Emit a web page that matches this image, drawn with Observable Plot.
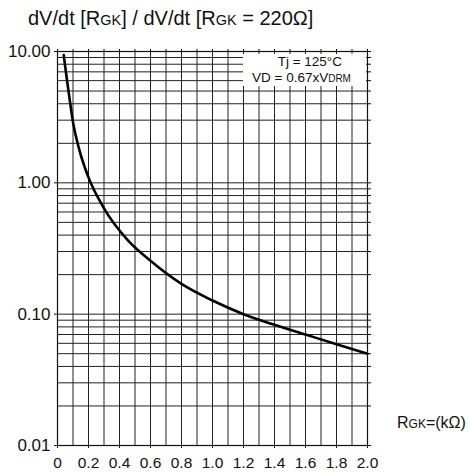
<!DOCTYPE html>
<html>
<head>
<meta charset="utf-8">
<script src="https://cdn.jsdelivr.net/npm/d3@7"></script>
<script src="https://cdn.jsdelivr.net/npm/@observablehq/plot@0.6"></script>
<style>
  body { margin: 0; background: #fff; font-family: "Liberation Sans", Arial, sans-serif; }
  #wrap { position: relative; width: 470px; height: 472px; }
  #title { position: absolute; left: 28px; top: 8px; font-size: 20px; line-height: 20px; white-space: nowrap; color: #111; }
  .sc { font-size: 14.5px; }
  #chart { position: absolute; left: 0; top: 36px; }
  #xlabel { position: absolute; left: 397px; top: 415px; font-size: 16px; line-height: 16px; white-space: nowrap; color: #111; }
  .sc2 { font-size: 12px; }
  #legend { position: absolute; left: 243px; top: 54px; width: 123px; height: 32px; background: #fff; font-size: 13.5px; color: #111; }
  #legend div { position: absolute; white-space: nowrap; line-height: 13.5px; }
  .sc3 { font-size: 10px; }
</style>
</head>
<body>
<div id="wrap">
  <div id="title">dV/dt [R<span class="sc">GK</span>] / dV/dt [R<span class="sc">GK</span> = 220Ω]</div>
  <div id="chart"></div>
  <div id="xlabel">R<span class="sc2">GK</span>=(kΩ)</div>
  <div id="legend">
    <div style="right:24px; top:1px;">Tj = 125°C</div>
    <div style="left:9px; top:17px;">VD = 0.67xV<span class="sc3">DRM</span></div>
  </div>
</div>
<script>
// Curve: dV/dt ratio vs RGK (kΩ)
const rgk   = [0.04, 0.06, 0.08, 0.1, 0.14, 0.2, 0.3, 0.45, 0.6, 0.8, 1.0, 1.2, 1.4, 1.6, 1.8, 2.0];
const ratio = [9.4, 6.2, 4.2, 2.9, 1.8, 1.1, 0.64, 0.37, 0.255, 0.17, 0.127, 0.1, 0.083, 0.07, 0.059, 0.05];

const xGrid = [0, 0.1, 0.2, 0.3, 0.4, 0.5, 0.6, 0.7, 0.8, 0.9, 1.0, 1.1, 1.2, 1.3, 1.4, 1.5, 1.6, 1.7, 1.8, 1.9, 2.0];
const xTickLabels = [0, 0.2, 0.4, 0.6, 0.8, 1.0, 1.2, 1.4, 1.6, 1.8, 2.0];
const yGrid = [0.01, 0.02, 0.03, 0.04, 0.05, 0.06, 0.07, 0.08, 0.09,
               0.1, 0.2, 0.3, 0.4, 0.5, 0.6, 0.7, 0.8, 0.9,
               1, 2, 3, 4, 5, 6, 7, 8, 9, 10];
const yTickLabels = [0.01, 0.1, 1, 10];

const data = rgk.map((x, i) => ({x, y: ratio[i]}));

const chart = Plot.plot({
  width: 470,
  height: 436,
  marginTop: 15,
  marginLeft: 57,
  marginRight: 103,
  marginBottom: 27,
  style: {fontFamily: "Liberation Sans, Arial, sans-serif", color: "#111", background: "transparent"},
  x: {domain: [0, 2]},
  y: {type: "log", domain: [0.01, 10]},
  marks: [
    Plot.ruleX(xGrid, {x: d => d, stroke: "#222", strokeWidth: 1}),
    Plot.ruleY(yGrid, {y: d => d, stroke: "#222", strokeWidth: 1}),
    Plot.frame({stroke: "#111", strokeWidth: 1.2}),
    Plot.axisX({ticks: xTickLabels, tickSize: 3, tickPadding: 8, fontSize: 15.5,
                tickFormat: d => d === 0 ? "0" : d.toFixed(1), label: null}),
    Plot.axisX({anchor: "top", ticks: xGrid, tickSize: 3, tickFormat: () => "", label: null}),
    Plot.axisY({ticks: yTickLabels, tickSize: 3, tickPadding: 4, fontSize: 17,
                tickFormat: d => d.toFixed(2), label: null}),
    Plot.axisY({anchor: "right", ticks: yGrid, tickSize: 3, tickFormat: () => "", label: null}),
    Plot.line(data, {x: "x", y: "y", curve: "monotone-x", stroke: "#000", strokeWidth: 2.6})
  ]
});
document.getElementById("chart").appendChild(chart);
</script>
</body>
</html>
